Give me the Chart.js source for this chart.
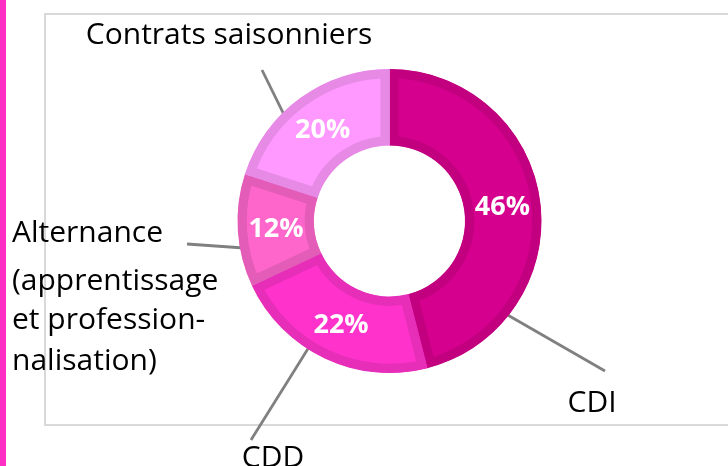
<!DOCTYPE html>
<html>
<head>
<meta charset="utf-8">
<script src="https://cdn.jsdelivr.net/npm/chart.js@4/dist/chart.umd.min.js"></script>
<style>
  html, body { margin: 0; padding: 0; background: #ffffff; }
  #wrap { position: relative; width: 728px; height: 466px; overflow: hidden; background: #fff; }
  #bar { position: absolute; left: 0; top: 0; width: 6px; height: 466px; background: #FF2EC4; }
  #frame { position: absolute; left: 44px; top: 13px; width: 800px; height: 413px; box-sizing: border-box; border: 2px solid #D9D9D9; }
  #c { position: absolute; left: 0; top: 0; }
</style>
</head>
<body>
<div id="wrap">
  <div id="bar"></div>
  <div id="frame"></div>
  <canvas id="c" width="728" height="466"></canvas>
</div>
<script>
// ---- data ----
const categories = ['CDI', 'CDD', 'Alternance', 'Contrats saisonniers'];
const shares = [46, 22, 12, 20];
const labelTexts = [
  ['CDI'],
  ['CDD'],
  ['Alternance', '(apprentissage', 'et profession-', 'nalisation)'],
  ['Contrats saisonniers']
];

// ---- styles ----
const fillColors = ['#D6008F', '#FF33CC', '#FF66CC', '#FF99FF'];
const edgeColors = ['#C2007F', '#E62EB8', '#E35CB8', '#E68AE6'];

// ---- outer label layout (relative to the doughnut centre) ----
const outerLayout = [
  { align: 'center', dx: 202.5, baselines: [191], anchorFrac: 0.777, lineEnd: [215.5, 150] },
  { align: 'center', dx: -116.5, baselines: [246], anchorFrac: 0.593, lineEnd: [-138.5, 219] },
  { align: 'left', dx: -377.5, baselines: [21, 69, 108, 149], anchorFrac: 0.34, lineEnd: [-202.5, 23] },
  { align: 'center', dx: -160.5, baselines: [-177], anchorFrac: 0.375, lineEnd: [-127.5, -151] }
];

const labelPlugin = {
  id: 'labelPlugin',
  beforeDatasetsDraw(chart) {
    const ctx = chart.ctx;
    const meta = chart.getDatasetMeta(0);
    ctx.save();
    ctx.strokeStyle = '#808080';
    ctx.lineWidth = 2.8;
    ctx.lineCap = 'butt';
    meta.data.forEach((arc, i) => {
      const p = arc.getProps(['x', 'y', 'startAngle', 'endAngle', 'outerRadius'], true);
      const L = outerLayout[i];
      const a = p.startAngle + L.anchorFrac * (p.endAngle - p.startAngle);
      const ax = p.x + Math.cos(a) * (p.outerRadius - 4);
      const ay = p.y + Math.sin(a) * (p.outerRadius - 4);
      ctx.beginPath();
      ctx.moveTo(p.x + L.lineEnd[0], p.y + L.lineEnd[1]);
      ctx.lineTo(ax, ay);
      ctx.stroke();
    });
    ctx.restore();
  },
  afterDatasetsDraw(chart) {
    const ctx = chart.ctx;
    const meta = chart.getDatasetMeta(0);
    const data = chart.data.datasets[0].data;
    const total = data.reduce((s, v) => s + v, 0);
    ctx.save();
    // percentage labels
    ctx.fillStyle = '#ffffff';
    ctx.font = '700 27px "Open Sans"';
    ctx.textAlign = 'center';
    ctx.textBaseline = 'middle';
    meta.data.forEach((arc, i) => {
      const pos = arc.tooltipPosition(true);
      const pct = Math.round(data[i] / total * 100) + '%';
      ctx.fillText(pct, pos.x, pos.y + 1);
    });
    // category labels
    ctx.fillStyle = '#000000';
    ctx.font = '400 30px "Open Sans"';
    ctx.textBaseline = 'alphabetic';
    meta.data.forEach((arc, i) => {
      const p = arc.getProps(['x', 'y'], true);
      const L = outerLayout[i];
      ctx.textAlign = L.align;
      labelTexts[i].forEach((t, k) => {
        ctx.fillText(t, p.x + L.dx, p.y + L.baselines[k]);
      });
    });
    ctx.restore();
  }
};

new Chart(document.getElementById('c'), {
  type: 'doughnut',
  data: {
    labels: categories,
    datasets: [{
      data: shares,
      backgroundColor: fillColors,
      borderColor: edgeColors,
      borderWidth: 9,
      borderAlign: 'inner',
      borderJoinStyle: 'miter',
      hoverOffset: 0
    }]
  },
  options: {
    responsive: false,
    devicePixelRatio: 1,
    animation: false,
    radius: 152,
    cutout: 75,
    rotation: 0,
    layout: { padding: { left: 238, right: 187, top: 70, bottom: 94 } },
    plugins: {
      legend: { display: false },
      tooltip: { enabled: false }
    }
  },
  plugins: [labelPlugin]
});
</script>
</body>
</html>
